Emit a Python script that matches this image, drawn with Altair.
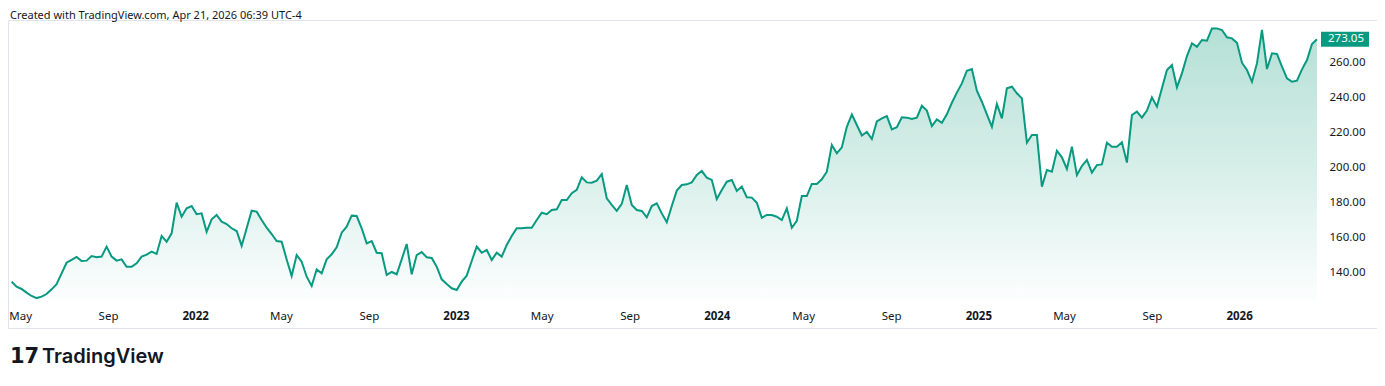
import altair as alt
import pandas as pd

# ---- data (weekly closes) ----
end_date = "2026-04-20"
prices = [
    134.5, 131.6, 130.3, 128.2, 126.3, 125.1, 125.9, 127.4, 130.1, 133.1,
    139.2, 145.3, 146.9, 148.6, 146.3, 146.5, 149.1, 148.4, 148.8, 154.5,
    148.8, 146.5, 147.2, 143.0, 143.0, 145.0, 148.8, 149.9, 151.6, 150.3,
    160.6, 157.3, 162.1, 179.6, 171.6, 176.4, 177.7, 173.0, 173.5, 163.0,
    170.1, 172.6, 168.8, 167.4, 165.0, 163.4, 154.9, 165.0, 175.0, 174.5,
    169.7, 165.3, 161.7, 157.7, 157.3, 147.2, 137.7, 149.7, 145.9, 137.3,
    132.0, 141.5, 139.2, 147.2, 150.1, 154.1, 162.5, 165.9, 172.2, 172.0,
    165.0, 156.4, 157.7, 151.0, 150.7, 138.3, 140.0, 138.7, 147.2, 156.0,
    138.7, 149.7, 151.4, 148.4, 148.0, 143.0,
    135.8, 133.1, 130.7, 129.7, 134.5, 137.9, 146.3, 154.5, 151.0, 152.6,
    146.9, 151.0, 148.8, 155.4, 160.6, 165.0, 165.0, 165.3, 165.3, 169.7,
    173.9, 173.0, 175.4, 175.8, 181.1, 181.1, 185.0, 186.9, 194.1, 191.2,
    191.0, 192.2, 196.0, 182.1, 178.3, 174.9, 178.9, 189.7, 178.3, 175.4,
    174.9, 171.2, 177.7, 179.2, 173.5, 168.4, 177.7, 186.5, 189.7, 190.1,
    191.2, 195.4, 197.7, 193.9, 192.6, 181.7, 186.9, 191.6, 192.6, 186.3,
    188.8, 182.7, 182.5, 179.6, 171.0, 172.6, 172.6, 171.6, 169.7, 176.4,
    165.3, 169.3, 183.4, 183.4, 190.3, 190.3, 193.0, 197.3, 212.6, 207.8,
    211.2,
    223.0, 230.0, 224.0, 218.0, 220.0, 216.0, 226.0,
    227.8, 229.1, 221.5, 222.7, 228.4, 228.2, 227.4, 228.2, 235.0, 232.2,
    223.4, 227.2, 225.3, 230.1, 236.7, 242.5, 247.8, 255.0, 256.0, 243.6,
    237.3, 230.1, 223.0, 236.0, 227.8, 245.0, 245.9, 242.1, 239.2, 213.9,
    218.3, 218.3, 188.8, 198.3, 197.3, 209.3, 205.5, 198.9, 211.6, 195.4,
    200.6, 204.0, 196.8, 201.1, 201.5, 213.9, 211.6, 211.6, 214.1, 202.5,
    229.7, 231.6, 228.2, 232.2, 239.8, 234.5, 245.0, 255.4, 258.3, 245.5,
    253.5, 263.4, 270.7, 268.7, 272.6, 272.2, 279.2, 279.2, 278.3, 274.1,
    273.5, 271.0, 259.6, 255.4, 248.7, 259.2, 278.3, 256.0, 265.0, 264.6,
    257.3, 250.7, 248.7, 249.3, 255.8, 261.1, 270.3, 273.05,
]
last_label = "273.05"
area_floor = 124  # baseline value of the filled area (bottom of price pane)
y_ticks = [140, 160, 180, 200, 220, 240, 260]
x_ticks = [
    (2021, 5), (2021, 9), (2022, 1), (2022, 5), (2022, 9), (2023, 1),
    (2023, 5), (2023, 9), (2024, 1), (2024, 5), (2024, 9), (2025, 1),
    (2025, 5), (2025, 9), (2026, 1),
]
header_text = "Created with TradingView.com, Apr 21, 2026 06:39 UTC-4"
footer_text = "TradingView"

dates = pd.date_range(end=end_date, periods=len(prices), freq="7D")
df = pd.DataFrame({"date": dates.strftime("%Y-%m-%d"), "price": prices})
df_last = pd.DataFrame({"date": [df["date"].iloc[-1]], "price": [prices[-1]], "label": [last_label]})

FONT = "Noto Sans"
GREEN = "#089981"
TXT = "#131722"

W, H = 1369, 308

xscale = alt.Scale(type="utc",
                   domain=[alt.DateTime(year=2021, month=4, date=14, utc=True),
                           alt.DateTime(year=2026, month=7, date=13, utc=True)])
yscale = alt.Scale(domain=[108, 284], nice=False, zero=False)

is_year = "utcmonth(datum.value) == 0"
xaxis = alt.Axis(
    values=[alt.DateTime(year=y, month=m, date=1, utc=True) for y, m in x_ticks],
    labelExpr="utcmonth(datum.value) == 0 ? utcFormat(datum.value, '%Y') : utcFormat(datum.value, '%b')",
    labelFontWeight={"condition": {"test": is_year, "value": "bold"}, "value": "normal"},
    orient="bottom", offset=-28, domain=False, ticks=False, grid=False, title=None,
    labelPadding=10, labelFont=FONT, labelFontSize=11.5, labelColor=TXT,
    labelFlush=False, labelOverlap=False,
)
yaxis = alt.Axis(
    orient="right", offset=-59, values=y_ticks, format=".2f", domain=False, ticks=False,
    grid=False, title=None, labelPadding=11, labelAlign="left", labelBaseline="middle",
    labelFont=FONT, labelFontSize=11.5, labelColor=TXT,
)

x_enc = alt.X("date:T", scale=xscale, axis=xaxis)
y_enc = alt.Y("price:Q", scale=yscale, axis=yaxis)

gradient = alt.Gradient(
    gradient="linear",
    stops=[alt.GradientStop(color="#b4e0d6", offset=0),
           alt.GradientStop(color="#d6eee8", offset=0.5),
           alt.GradientStop(color="#fcfefe", offset=1)],
    x1=0, x2=0, y1=0, y2=1,
)

area = alt.Chart(df).mark_area(color=gradient).encode(x=x_enc, y=y_enc, y2=alt.datum(area_floor))
line = alt.Chart(df).mark_line(color=GREEN, strokeWidth=2).encode(x=x_enc, y=y_enc)

box = alt.Chart(df_last).mark_point(
    shape="M-1,-0.3125H1V0.3125H-1Z", size=2304, filled=True, opacity=1, color=GREEN
).encode(x=alt.value(1337), y=y_enc)
box_txt = alt.Chart(df_last).mark_text(
    color="white", font=FONT, fontSize=11.5, align="center", baseline="middle"
).encode(x=alt.value(1338), y=y_enc, text="label:N")

hdr = alt.Chart(pd.DataFrame({"t": [header_text]})).mark_text(
    font=FONT, fontSize=11, color=TXT, align="left", baseline="alphabetic"
).encode(x=alt.value(2), y=alt.value(-1.5), text="t:N")

logo = alt.Chart(pd.DataFrame({"t": ["17"]})).mark_text(
    font="DejaVu Sans", fontSize=21, fontWeight=900, color=TXT, align="left", baseline="middle"
).encode(x=alt.value(2), y=alt.value(337), text="t:N")
ftr = alt.Chart(pd.DataFrame({"t": [footer_text]})).mark_text(
    font="Inter", fontSize=20, fontWeight=600, color=TXT, align="left", baseline="middle"
).encode(x=alt.value(34), y=alt.value(337), text="t:N")

chart = alt.layer(area, line, box, box_txt, hdr, logo, ftr).properties(
    width=W, height=H,
    autosize=alt.AutoSizeParams(type="none"),
    padding={"left": 0, "top": 12, "right": 0, "bottom": 50},
    background="white",
).configure_view(stroke="#e0e3eb", strokeWidth=1)

chart.save("out.html", embed_options={"renderer": "svg", "actions": False})
